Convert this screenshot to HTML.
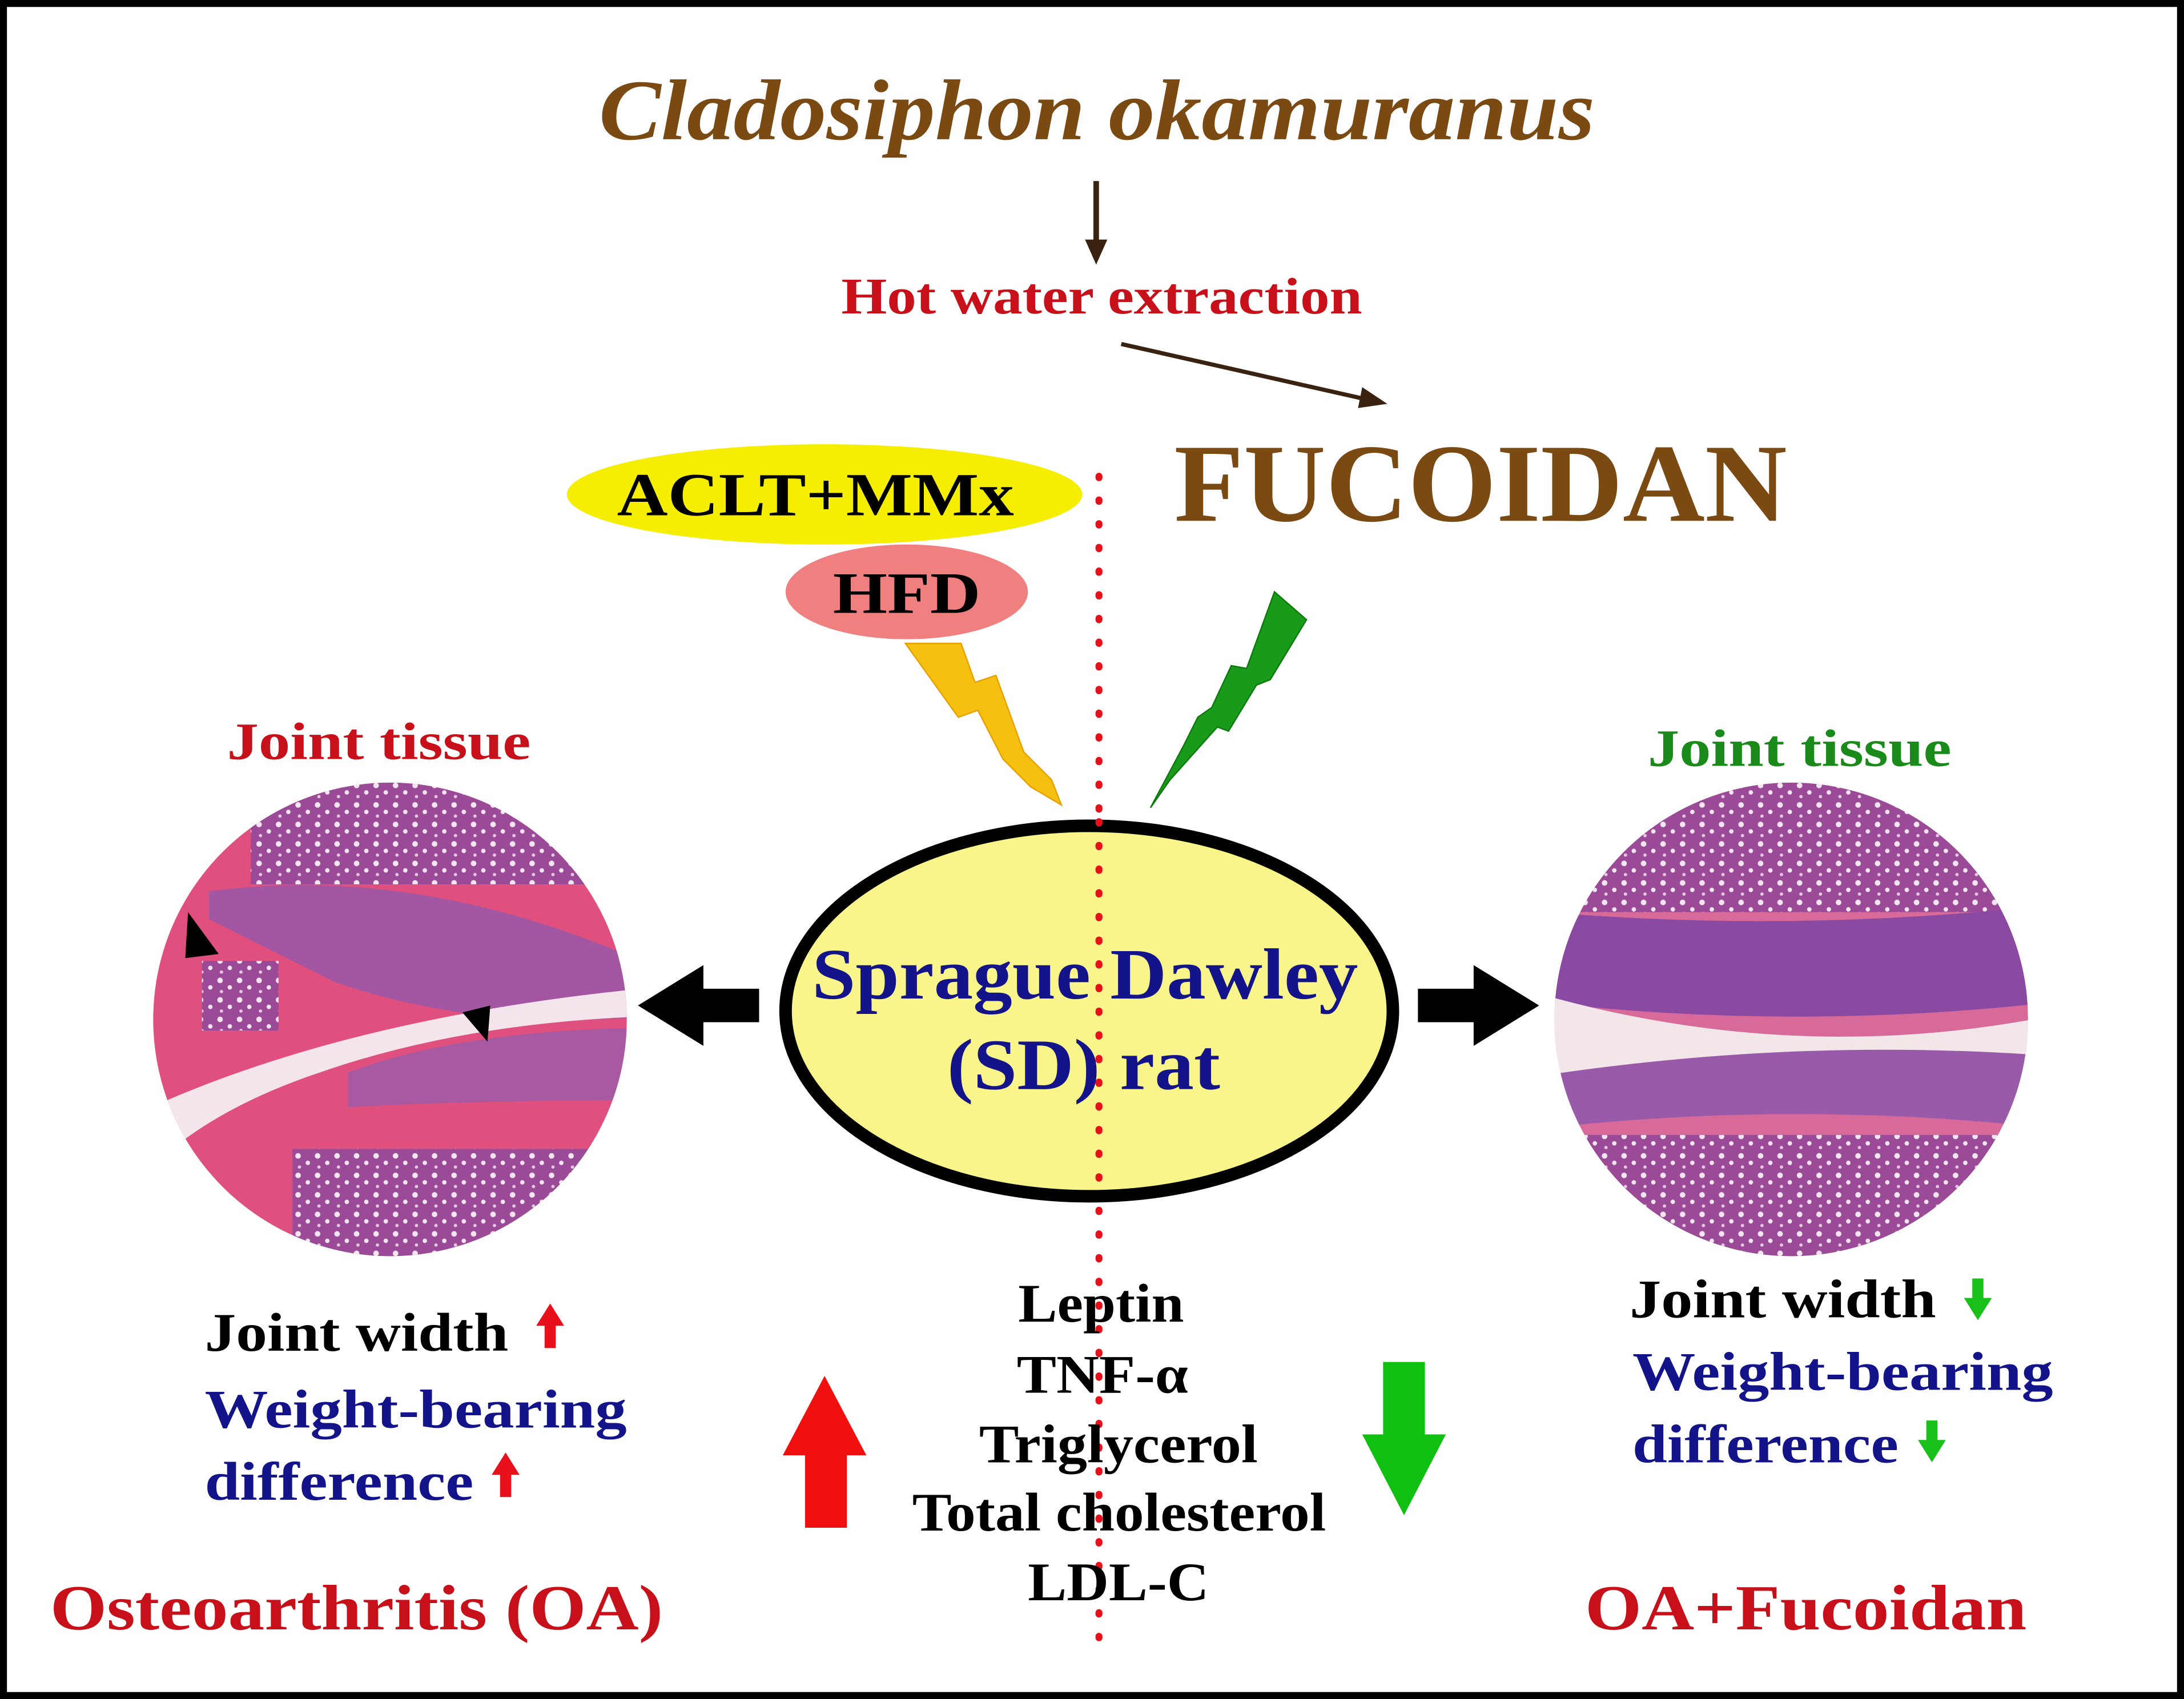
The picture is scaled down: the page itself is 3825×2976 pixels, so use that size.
<!DOCTYPE html>
<html><head><style>html,body{margin:0;padding:0;background:#fff}svg{display:block}</style></head>
<body>
<svg width="3825" height="2976" viewBox="0 0 1568 1220" preserveAspectRatio="none" xmlns="http://www.w3.org/2000/svg" font-family="'Liberation Serif', serif" font-weight="bold">
<defs>
<clipPath id="cl"><circle cx="280" cy="732" r="170"/></clipPath>
<clipPath id="cr"><circle cx="1286" cy="732" r="170"/></clipPath>
<pattern id="marrow" width="14" height="14" patternUnits="userSpaceOnUse">
<rect width="14" height="14" fill="#9a4a96"/><circle cx="4" cy="4" r="2" fill="#f3e6f0"/><circle cx="11" cy="9" r="1.6" fill="#f3e6f0"/><circle cx="5" cy="12" r="1.2" fill="#e6c8e0"/>
</pattern>
</defs>
<rect x="2.5" y="2.5" width="1563" height="1215" fill="#fff" stroke="#000" stroke-width="5"/>
<text x="430" y="100" textLength="715" lengthAdjust="spacingAndGlyphs" font-size="62" font-style="italic" fill="#7a4a12">Cladosiphon okamuranus</text>
<line x1="787" y1="130" x2="787" y2="175" stroke="#3a2210" stroke-width="4"/>
<polygon points="779,172 795,172 787,190" fill="#3a2210"/>
<text x="604" y="225" textLength="374" lengthAdjust="spacingAndGlyphs" font-size="37" fill="#c8101a">Hot water extraction</text>
<line x1="805" y1="247" x2="982" y2="287" stroke="#3a2210" stroke-width="3"/>
<polygon points="978,278 996,290 975,293" fill="#3a2210"/>
<text x="843" y="374" textLength="440" lengthAdjust="spacingAndGlyphs" font-size="80" fill="#7a4a12">FUCOIDAN</text>
<ellipse cx="592" cy="355" rx="185" ry="36" fill="#f5ee00"/>
<text x="443" y="370" textLength="285" lengthAdjust="spacingAndGlyphs" font-size="44" fill="#000">ACLT+MMx</text>
<ellipse cx="651" cy="425" rx="87" ry="34" fill="#f08080"/>
<text x="598" y="440" textLength="106" lengthAdjust="spacingAndGlyphs" font-size="42" fill="#000">HFD</text>
<polygon points="650,462 690,462 700,490 715,485 735,540 755,560 762,578 740,565 720,545 702,510 688,515" fill="#f5c010" stroke="#e8a000" stroke-width="1"/>
<polygon points="915,425 938,445 912,488 902,492 882,525 874,522 840,560 826,580 850,535 860,515 870,508 884,478 895,480" fill="#1a9a1a" stroke="#0a7a0a" stroke-width="1"/>
<line x1="789" y1="342" x2="789" y2="1192" stroke="#e8101a" stroke-width="5" stroke-dasharray="1 16" stroke-linecap="round"/>
<ellipse cx="782" cy="726" rx="218" ry="133" fill="#faf58a" stroke="#000" stroke-width="9"/>
<line x1="789" y1="590" x2="789" y2="862" stroke="#e8101a" stroke-width="5" stroke-dasharray="1 16" stroke-linecap="round"/>
<text x="583" y="717" textLength="392" lengthAdjust="spacingAndGlyphs" font-size="52" fill="#14148a">Sprague Dawley</text>
<text x="680" y="782" textLength="196" lengthAdjust="spacingAndGlyphs" font-size="52" fill="#14148a">(SD) rat</text>
<polygon points="545,710 505,710 505,693 458,722 505,751 505,734 545,734" fill="#000"/>
<polygon points="1018,710 1058,710 1058,693 1105,722 1058,751 1058,734 1018,734" fill="#000"/>
<g clip-path="url(#cl)">
<rect x="100" y="560" width="360" height="350" fill="#e0507e"/>
<rect x="180" y="560" width="280" height="75" fill="url(#marrow)"/>
<path d="M150,640 Q300,620 460,690 L460,730 Q340,740 240,705 Q190,680 150,660Z" fill="#9858a8" opacity="0.85"/>
<path d="M120,790 Q260,730 460,710 L460,730 Q330,735 230,770 Q170,790 130,820Z" fill="#f4e4ec"/>
<path d="M250,770 Q330,740 460,738 L460,790 Q340,790 250,795Z" fill="#9c5aa8" opacity="0.85"/>
<rect x="145" y="690" width="55" height="50" fill="url(#marrow)"/>
<rect x="210" y="825" width="230" height="100" fill="url(#marrow)"/>
<polygon points="135,655 157,685 133,688" fill="#000"/>
<polygon points="332,727 352,722 350,748" fill="#000"/>
</g>
<g clip-path="url(#cr)">
<rect x="1110" y="560" width="360" height="350" fill="#d86a9a"/>
<rect x="1110" y="560" width="360" height="95" fill="url(#marrow)"/>
<path d="M1110,655 Q1290,670 1470,650 L1470,720 Q1290,740 1110,720Z" fill="#8a4aa2"/>
<path d="M1110,715 Q1290,765 1470,730 L1470,760 Q1290,745 1110,775Z" fill="#f3e6e8"/>
<path d="M1110,772 Q1290,745 1470,758 L1470,810 Q1290,790 1110,810Z" fill="#9a5aaa"/>
<rect x="1110" y="815" width="360" height="100" fill="url(#marrow)"/>
</g>
<text x="163" y="545" textLength="218" lengthAdjust="spacingAndGlyphs" font-size="38" fill="#c8101a">Joint tissue</text>
<text x="1183" y="550" textLength="218" lengthAdjust="spacingAndGlyphs" font-size="38" fill="#1a8a1a">Joint tissue</text>
<g font-size="39" lengthAdjust="spacingAndGlyphs">
<text x="147" y="970" textLength="218" lengthAdjust="spacingAndGlyphs" fill="#000">Joint width</text>
<text x="147" y="1025" textLength="303" lengthAdjust="spacingAndGlyphs" fill="#14148a">Weight-bearing</text>
<text x="147" y="1077" textLength="193" lengthAdjust="spacingAndGlyphs" fill="#14148a">difference</text>
<text x="1170" y="946" textLength="220" lengthAdjust="spacingAndGlyphs" fill="#000">Joint width</text>
<text x="1172" y="998" textLength="302" lengthAdjust="spacingAndGlyphs" fill="#14148a">Weight-bearing</text>
<text x="1172" y="1050" textLength="191" lengthAdjust="spacingAndGlyphs" fill="#14148a">difference</text>
<text x="731" y="949" textLength="119" lengthAdjust="spacingAndGlyphs" fill="#000">Leptin</text>
<text x="730" y="1000" textLength="123" lengthAdjust="spacingAndGlyphs" fill="#000">TNF-α</text>
<text x="703" y="1050" textLength="200" lengthAdjust="spacingAndGlyphs" fill="#000">Triglycerol</text>
<text x="655" y="1099" textLength="297" lengthAdjust="spacingAndGlyphs" fill="#000">Total cholesterol</text>
<text x="738" y="1149" textLength="130" lengthAdjust="spacingAndGlyphs" fill="#000">LDL-C</text>
</g>
<polygon points="395,936 385,952 391,952 391,968 399,968 399,952 405,952" fill="#e8101a"/>
<polygon points="363,1043 353,1059 359,1059 359,1075 367,1075 367,1059 373,1059" fill="#e8101a"/>
<polygon points="1420,948 1410,932 1416,932 1416,918 1424,918 1424,932 1430,932" fill="#1ac01a"/>
<polygon points="1387,1050 1377,1034 1383,1034 1383,1020 1391,1020 1391,1034 1397,1034" fill="#1ac01a"/>
<polygon points="592,988 562,1045 578,1045 578,1097 608,1097 608,1045 622,1045" fill="#f01010"/>
<polygon points="1008,1088 978,1030 993,1030 993,978 1023,978 1023,1030 1038,1030" fill="#10c010"/>
<text x="36" y="1170" textLength="440" lengthAdjust="spacingAndGlyphs" font-size="46" fill="#c8101a">Osteoarthritis (OA)</text>
<text x="1138" y="1170" textLength="317" lengthAdjust="spacingAndGlyphs" font-size="46" fill="#c8101a">OA+Fucoidan</text>
</svg>
</body></html>
